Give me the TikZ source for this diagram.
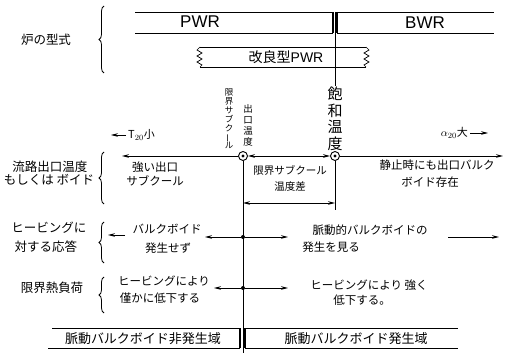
\documentclass[tikz,border=0pt]{standalone}
\usepackage{fontspec}
\usepackage{graphicx}
\newfontfamily\jp{Noto Sans CJK JP}
\newfontfamily\lat{Liberation Sans}
\usetikzlibrary{arrows.meta,decorations.pathreplacing}
\newcommand\jfs[2]{\fontsize{#1}{#2}\selectfont}
\newcommand\vbar{\rotatebox[origin=c]{90}{ー}}
\tikzset{
  every node/.style={font=\jp, inner sep=0pt},
  ln/.style={line width=0.9pt},
  arr/.tip={Stealth[length=7pt,width=3.6pt]},
  brc/.style={line width=0.8pt, decorate, decoration={brace, amplitude=5pt}},
  ring/.style={circle, draw, line width=0.9pt, minimum size=9pt},
  jot/.style={circle, fill, minimum size=4pt},
  lbl/.style={font=\jp\jfs{12.5}{14}},
  mid/.style={font=\jp\jfs{11.5}{13}},
  barlbl/.style={font=\jp\jfs{13}{14}},
}
\begin{document}
\begin{tikzpicture}[x=1pt,y=-1pt]
\useasboundingbox (0,0) rectangle (515,353);
% ---------- reactor type ----------
\node[lbl] (type) at (46,40) {炉の型式};
\draw[brc] (104,73) -- (104,6);
\draw[ln] (135,12) -- (333,12) (135,33) -- (333,33);
\draw[ln] (337,12) -- (494,12) (337,33) -- (494,33);
\draw[line width=1.1pt] (333,12) -- (333,33) (337,12) -- (337,33);
\node[font=\lat\jfs{17}{18}] (pwr) at (200,22) {PWR};
\node[font=\lat\jfs{17}{18}] (bwr) at (425,23) {BWR};
\draw[ln] (200,47) -- (366,47) (200,67) -- (366,67);
\draw[line width=0.7pt] (200,47) -- (197,50) -- (202,53) -- (197,56) -- (202,59) -- (197,62) -- (202,65) -- (200,67);
\draw[line width=0.7pt] (366,47) -- (369,50) -- (364,53) -- (369,56) -- (364,59) -- (369,62) -- (364,65) -- (366,67);
\node[font=\jp\jfs{14}{15}] (apwr) at (286,57) {改良型{\lat PWR}};
\coordinate (vtop) at (335,12);
\coordinate (vbot) at (335,86);
\draw[ln] (vtop) -- (vbot);
% ---------- vertical labels ----------
\node[font=\jp\jfs{8.5}{8.9}, align=center] (gsc) at (229,119) {限\\界\\サ\\ブ\\ク\\\vbar\\ル};
\node[font=\jp\jfs{9.5}{11}, align=center] (det) at (248,125) {出\\口\\温\\度};
\node[font=\jp\jfs{15}{16.5}, align=center] (sat) at (335,119) {飽\\和\\温\\度};
% ---------- temperature axis ----------
\node[ring] (c1) at (243,156) {};
\node[ring] (c2) at (335,156) {};
\fill (c1) circle (1.6pt) (c2) circle (1.6pt);
\coordinate (axl) at (122,156);
\coordinate (axr) at (503,156);
\draw[ln,-arr] (c1) -- (axl);
\draw[ln,arr-arr] (c1) -- (c2);
\draw[ln,-arr] (c2) -- (axr);
\coordinate (tl0) at (126,135); \coordinate (tl1) at (111,135);
\draw[line width=0.7pt,-arr] (tl0) -- (tl1);
\node[font=\jp\jfs{11}{12}, anchor=west] (tsmall) at (128,135) {T$_{20}$小};
\node[font=\jp\jfs{11}{12}, anchor=east] (abig) at (468,133) {$\alpha_{20}$大};
\coordinate (al0) at (470,133); \coordinate (al1) at (488,133);
\draw[line width=0.7pt,-arr] (al0) -- (al1);
% ---------- row 1 ----------
\node[lbl] (r1a) at (50,167) {流路出口温度};
\node[lbl] (r1b) at (49,180) {もしくは ボイド};
\draw[brc] (104,204) -- (104,152);
\node[mid] (s1a) at (155,167) {強い出口};
\node[mid] (s1b) at (155,181) {サブクール};
\node[font=\jp\jfs{10.5}{12}] (m1a) at (290,170) {限界サブクール};
\node[font=\jp\jfs{10.5}{12}] (m1b) at (290,187) {温度差};
\node[mid] (b1a) at (437,165) {静止時にも出口バルク};
\node[mid] (b1b) at (430,182) {ボイド存在};
\coordinate (c2b) at (335,210);
\draw[ln] (c2) -- (c2b);
\coordinate (d1) at (243,203); \coordinate (d2) at (335,203);
\draw[ln,arr-arr] (d1) -- (d2);
% ---------- main vertical ----------
\coordinate (vb) at (243,353);
\draw[ln] (c1) -- (vb);
% ---------- row 2 ----------
\node[lbl] (r2a) at (49,228) {ヒービングに};
\node[lbl] (r2b) at (46,247) {対する応答};
\draw[brc] (104,263) -- (104,222);
\node[jot] (h2) at (243,237) {};
\coordinate (h2l) at (205,237); \coordinate (h2r) at (288,237);
\draw[ln,-arr] (h2) -- (h2l);
\draw[ln,-arr] (h2) -- (h2r);
\coordinate (h2fl0) at (125,235); \coordinate (h2fl1) at (108,235);
\draw[ln,-arr] (h2fl0) -- (h2fl1);
\coordinate (h2fr0) at (448,237); \coordinate (h2fr1) at (499,237);
\draw[ln,-arr] (h2fr0) -- (h2fr1);
\node[mid] (s2a) at (167,229) {バルクボイド};
\node[mid] (s2b) at (168,248) {発生せず};
\node[mid] (b2a) at (370,230) {脈動的バルクボイドの};
\node[mid] (b2b) at (331,247) {発生を見る};
% ---------- row 3 ----------
\node[lbl] (r3) at (52,288) {限界熱負荷};
\draw[brc] (104,313) -- (104,277);
\node[jot] (h3) at (243,288) {};
\coordinate (h3l) at (214,288); \coordinate (h3r) at (288,288);
\draw[ln,-arr] (h3) -- (h3l);
\draw[ln,-arr] (h3) -- (h3r);
\node[mid] (s3a) at (164,281) {ヒービングにより};
\node[mid] (s3b) at (160,298) {僅かに低下する};
\node[mid] (b3a) at (369,285) {ヒービングにより 強く};
\node[mid] (b3b) at (362,300) {低下する。};
% ---------- bottom bars ----------
\draw[ln] (52,328) -- (240,328) (48,348) -- (240,348);
\draw[line width=1.1pt] (240,328) -- (240,348) (245,328) -- (245,348);
\draw[ln] (245,328) -- (458,328) (245,348) -- (458,348);
\node[barlbl] (nb) at (143,339) {脈動バルクボイド非発生域};
\node[barlbl] (yb) at (356,339) {脈動バルクボイド発生域};
\end{tikzpicture}
\end{document}
